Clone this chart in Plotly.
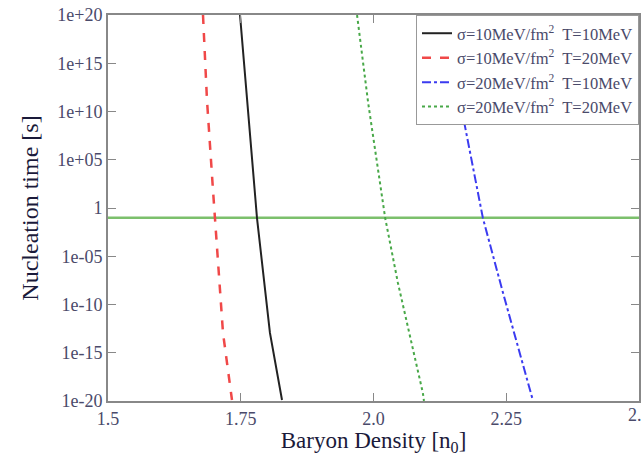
import plotly.graph_objects as go

# Baryon density [n0] and log10 nucleation time [s] for each curve
black_x = [1.7486, 1.7618, 1.7768, 1.7806, 1.8050, 1.8277]
black_logt = [20.0, 11.19, 1.87, -1.04, -12.95, -19.9]

red_x = [1.6789, 1.6864, 1.6977, 1.7015, 1.7166, 1.7335]
red_logt = [20.0, 11.19, 1.87, -1.04, -12.95, -19.9]

blue_x = [2.135, 2.167, 2.206, 2.244, 2.300]
blue_logt = [20.0, 9.95, -1.04, -8.81, -19.9]

green_x = [1.969, 1.990, 2.022, 2.046, 2.093, 2.095]
green_logt = [20.0, 10.88, -1.04, -7.77, -19.17, -20.0]

ref_time = 0.1  # horizontal reference line [s]

names = [
    "σ=10MeV/fm<sup>2</sup>  T=10MeV",
    "σ=10MeV/fm<sup>2</sup>  T=20MeV",
    "σ=20MeV/fm<sup>2</sup>  T=10MeV",
    "σ=20MeV/fm<sup>2</sup>  T=20MeV",
]

ytickvals = [1e-20, 1e-15, 1e-10, 1e-5, 1, 1e5, 1e10, 1e15, 1e20]
yticktext = ["1e-20", "1e-15", "1e-10", "1e-05", "1", "1e+05", "1e+10", "1e+15", "1e+20"]
xtickvals = [1.5, 1.75, 2.0, 2.25, 2.5]
xticktext = ["1.5", "1.75", "2.0", "2.25", "2.5"]

def tv(logs):
    return [10 ** v for v in logs]

fig = go.Figure()
fig.add_trace(go.Scatter(x=[1.5, 2.5], y=[ref_time, ref_time], mode="lines",
                         line=dict(color="#7cc06c", width=2.5), showlegend=False))
fig.add_trace(go.Scatter(x=black_x, y=tv(black_logt), mode="lines", name=names[0],
                         line=dict(color="#222222", width=2, dash="solid")))
fig.add_trace(go.Scatter(x=red_x, y=tv(red_logt), mode="lines", name=names[1],
                         line=dict(color="#f04848", width=2.5, dash="dash")))
fig.add_trace(go.Scatter(x=blue_x, y=tv(blue_logt), mode="lines", name=names[2],
                         line=dict(color="#3b3bf0", width=2, dash="dashdot")))
fig.add_trace(go.Scatter(x=green_x, y=tv(green_logt), mode="lines", name=names[3],
                         line=dict(color="#48a848", width=2, dash="dot")))

font_family = "Liberation Serif, Times New Roman, serif"
tick_color = "#4a4a6a"
fig.update_layout(
    width=641, height=456,
    margin=dict(l=108, r=2, t=15, b=55),
    paper_bgcolor="white", plot_bgcolor="white",
    font=dict(family=font_family, color="#3a3a5a"),
    legend=dict(x=1, y=1, xanchor="right", yanchor="top",
                bgcolor="white", bordercolor="#999999", borderwidth=1,
                font=dict(size=16.5, family=font_family, color=tick_color),
                tracegroupgap=0, itemwidth=30),
    xaxis=dict(range=[1.5, 2.5], tickvals=xtickvals, ticktext=xticktext,
               ticks="inside", ticklen=8, tickcolor="#888888",
               showline=True, linecolor="#888888", linewidth=2, mirror="ticks",
               showgrid=False, zeroline=False,
               tickfont=dict(size=18, color=tick_color),
               title=dict(text="Baryon Density [n<sub>0</sub>]", standoff=2,
                          font=dict(size=23, color="#1a1a3a")),
               automargin=False),
    yaxis=dict(type="log", range=[-20, 20], tickvals=ytickvals, ticktext=yticktext,
               ticks="inside", ticklen=8, tickcolor="#888888",
               showline=True, linecolor="#888888", linewidth=2, mirror="ticks",
               showgrid=False, zeroline=False,
               tickfont=dict(size=18, color=tick_color),
               title=dict(text="Nucleation time [s]", standoff=12,
                          font=dict(size=24, color="#1a1a3a")),
               automargin=False),
)

# last x tick label, which sits at the very edge of the figure
fig.add_annotation(x=xtickvals[-1], y=0, xref="x", yref="paper",
                   text=xticktext[-1], showarrow=False, xanchor="center", yanchor="top",
                   yshift=-2, font=dict(size=18, color=tick_color, family=font_family))

fig.write_html("out.html", config={"displayModeBar": False},
               post_script="document.body.style.margin='0';document.body.style.overflow='hidden';")
